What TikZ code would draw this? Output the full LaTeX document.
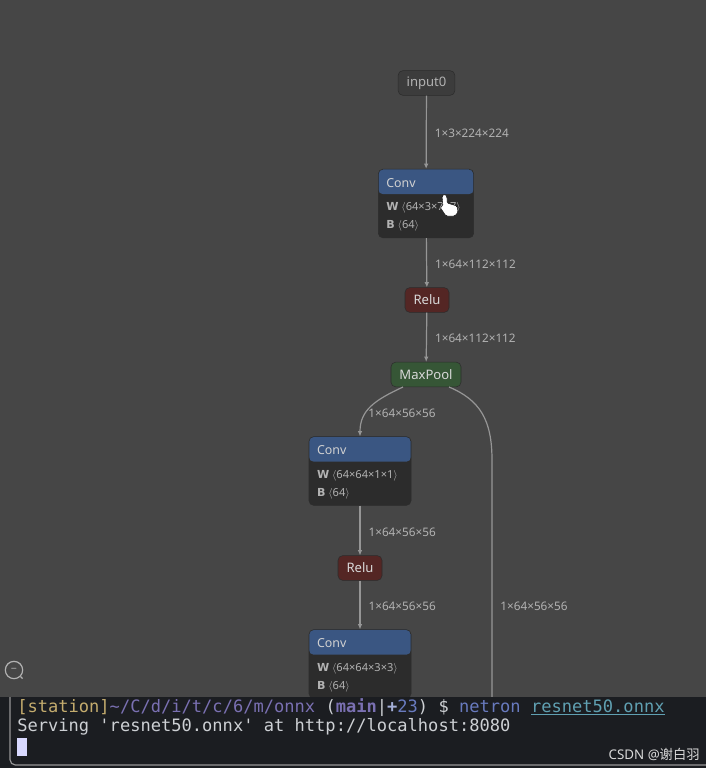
\documentclass[tikz,border=0pt]{standalone}
\usepackage{fontspec}
\setmainfont[BoldFont={DejaVu Sans Bold}]{Noto Sans}
\setmonofont{DejaVu Sans Mono}
\newfontfamily\cjkwm{Noto Sans CJK SC}
\usetikzlibrary{arrows.meta,calc,positioning}
\definecolor{nnback}{RGB}{70,70,70}
\definecolor{nnplain}{RGB}{60,60,60}
\definecolor{nnedge}{RGB}{150,150,150}
\definecolor{nnlabel}{RGB}{178,178,178}
\definecolor{nnblue}{RGB}{58,86,130}
\definecolor{nnbody}{RGB}{44,44,44}
\definecolor{nnred}{RGB}{84,38,36}
\definecolor{nngreen}{RGB}{54,86,54}
\definecolor{termback}{RGB}{27,29,33}
\definecolor{termtext}{RGB}{205,208,212}
\definecolor{termyellow}{RGB}{196,172,110}
\definecolor{termpurple}{RGB}{122,112,178}
\definecolor{termblue}{RGB}{104,122,190}
\definecolor{termteal}{RGB}{96,160,178}
\tikzset{
  opbox/.style={draw=nnbody,rounded corners=3.5pt,minimum height=18.5pt,inner sep=0pt,text=#1,font=\fontsize{9.8}{11}\selectfont},
  opbox/.default=white,
  convbox/.style={draw=nnbody,fill=nnbody,rounded corners=3.5pt,minimum height=51.5pt,inner sep=0pt,
    path picture={\fill[nnblue] (path picture bounding box.north west) rectangle
      ($(path picture bounding box.north east)+(0,25)$);}},
  convtitle/.style={text=nnlabel!60!white,font=\fontsize{9.3}{10}\selectfont,inner sep=0pt,anchor=west},
  attr/.style={text=nnlabel,font=\fontsize{8.3}{9}\selectfont,inner sep=0pt,anchor=west},
  edgelabel/.style={text=nnlabel,font=\fontsize{8.8}{10}\selectfont,inner sep=0pt},
  nnarrow/.style={draw=nnedge,line width=.9pt,-{Latex[length=4pt,width=3.5pt]}},
  termline/.style={font=\ttfamily\fontsize{12.8}{14}\selectfont,text=termtext,inner sep=0pt,anchor=west}
}
\newcommand{\convblock}[5]{%
  \node[convbox,minimum width=#3] (#1) at (#2) {};
  \node[convtitle] (#1title) at ($(#1.north west)+(8,14)$) {Conv};
  \node[attr] (#1w) at ($(#1.north west)+(8,39)$) {\textbf{W} $\langle$#4$\rangle$};
  \node[attr] (#1b) at ($(#1.north west)+(8,57)$) {\textbf{B} $\langle$#5$\rangle$};
}
\begin{document}
\begin{tikzpicture}[x=.75pt,y=-.75pt]
  \useasboundingbox (0,0) rectangle (706,768);
  \fill[nnback] (0,0) rectangle (706,768);

  \node[opbox=nnlabel,fill=nnplain,minimum width=42.5pt] (input) at (426.5,83) {input0};
  \convblock{conva}{426,203.5}{71.5pt}{64×3×7×7}{64}
  \node[opbox=nnlabel!50!white,fill=nnred,minimum width=33pt] (relua) at (427,300) {Relu};
  \node[opbox=nnlabel!50!white,fill=nngreen,minimum width=52.5pt] (pool) at (426,374.5) {MaxPool};
  \convblock{convb}{360,471}{76.5pt}{64×64×1×1}{64}
  \node[opbox=nnlabel!50!white,fill=nnred,minimum width=33pt] (relub) at (360,568) {Relu};
  \convblock{convc}{360,664}{76.5pt}{64×64×3×3}{64}
  \coordinate (skip) at (492,700);

  \draw[nnarrow] (input) -- node[edgelabel,right=6pt,yshift=-1pt] (la) {1×3×224×224} (conva);
  \draw[nnarrow] (conva) -- node[edgelabel,right=6pt,yshift=-1pt] (lb) {1×64×112×112} (relua);
  \draw[nnarrow] (relua) -- node[edgelabel,right=6pt,yshift=-1pt] (lc) {1×64×112×112} (pool);
  \draw[nnarrow] (403,387) .. controls (375,400) and (360,410) .. (convb.north);
  \node[edgelabel] (ld) at (402,413) {1×64×56×56};
  \draw[nnarrow] (convb) -- node[edgelabel,right=6pt,yshift=-1pt] (le) {1×64×56×56} (relub);
  \draw[nnarrow] (relub) -- node[edgelabel,right=6pt,yshift=-1pt] (lf) {1×64×56×56} (convc);
  \draw[draw=nnedge,line width=.9pt] (449,387) .. controls (480,400) and (492,420) .. (492,460) -- (skip);
  \node[edgelabel] (lg) at (534,606) {1×64×56×56};

  % hand pointer
  \draw[fill=white,draw=black,line width=.3pt,rounded corners=1pt] (442,196) -- (445,194) -- (447,197) -- (447,203)
    -- (457,206) -- (458,212) -- (455,216) -- (446,216) -- (440,207) -- (443,206) -- cycle;

  % zoom control
  \node[circle,draw=nnlabel,line width=.9pt,minimum size=13pt,inner sep=0pt,text=nnlabel,font=\fontsize{8}{8}\selectfont] (zoom) at (14,670) {−};
  \draw[nnlabel,line width=1pt] (zoom.south east) -- ++(2,2);

  % terminal
  \fill[termback] (0,697) rectangle (706,768);
  \draw[nnedge,line width=.9pt,rounded corners=4pt] (10,697) -- (10,765) -- (706,765);
  \node[termline] (prompt) at (17,707.5) {\textcolor{termyellow}{[station]}\textcolor{termpurple}{\char"7E/C/d/i/t/c/6/m/onnx} \textcolor{termtext}{(}\textcolor{termpurple}{\textbf{main}}|\textcolor{termblue!60!white}{\textbf{+}}\textcolor{termblue}{23}) \$ \textcolor{termblue}{netron} \textcolor{termteal}{\underline{resnet50.onnx}}};
  \node[termline] (serving) at (17,727) {Serving 'resnet50.onnx' at http://localhost:8080};
  \node[fill=white!85!blue,minimum width=7pt,minimum height=13.5pt,inner sep=0pt,anchor=north west] (cursor) at (17,738) {};
  \node[text=white!85!black,inner sep=0pt,anchor=east,font=\fontsize{10}{12}\selectfont] (mark) at (700,754) {CSDN @{\cjkwm 谢白羽}};
\end{tikzpicture}
\end{document}
